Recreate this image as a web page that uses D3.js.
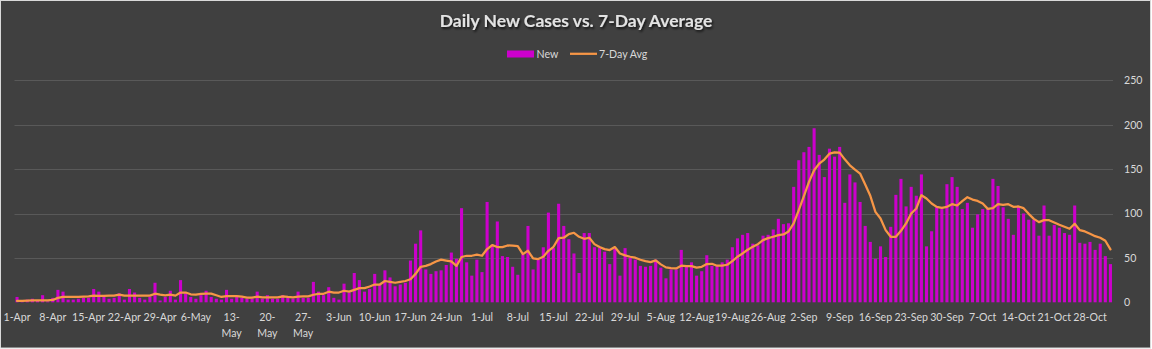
<!DOCTYPE html>
<html>
<head>
<meta charset="utf-8">
<script src="https://cdn.jsdelivr.net/npm/d3@7"></script>
<style>
  html, body { margin: 0; padding: 0; background: #ffffff; }
  svg { display: block; }
</style>
</head>
<body>
<svg id="chart" width="1152" height="349"></svg>
<script>
// Daily counts, 1 Apr – 1 Nov
const startDate = new Date(2020, 3, 1);

const newCases = [
  6, 2, 3, 4, 2, 8, 1, 5, 14, 12, 3, 3, 4, 5, 5, 15, 12, 6, 4, 5, 10, 3, 15, 11,
  5, 3, 6, 22, 2, 6, 13, 3, 25, 10, 6, 4, 8, 13, 6, 4, 3, 14, 4, 6,
  5, 4, 4, 12, 4, 8, 4, 4, 8, 5, 4, 12, 5, 5, 23, 12, 8, 17, 5, 3, 21, 11, 33, 25,
  12, 15, 32, 20, 36, 28, 18, 20, 22, 47, 66, 81, 37, 32, 35, 36, 42, 56, 49, 106,
  45, 30, 48, 34, 113, 65, 91, 52, 51, 40, 31, 54, 86, 37, 48, 62, 101, 61, 111, 86,
  71, 55, 33, 78, 78, 62, 61, 57, 43, 60, 30, 61, 50, 48, 41, 40, 41, 48, 39, 27, 37, 37, 59, 40,
  45, 30, 35, 53, 41, 41, 45, 48, 62, 72, 76, 78, 66, 64, 75, 76, 82, 94, 88, 89,
  130, 160, 169, 175, 196, 166, 141, 173, 164, 175, 112, 144, 135, 113, 86, 68, 49, 63, 51, 85,
  121, 139, 108, 130,
  120, 144, 63, 80, 107, 105, 133, 141, 130, 105, 112, 84, 99, 105, 105, 139, 131, 107, 94, 76,
  108, 100, 93, 93, 75, 109, 75, 87, 84, 78, 76, 109, 67, 66, 68, 59, 66, 52, 43
];

const sevenDayAvg = [
  1.5, 1.5, 2, 2.2, 2.2, 2.2, 2.2, 2.6, 5, 6, 6, 6, 6, 6.4, 6.7, 7.5, 7.1, 7.1, 7.5, 7.5, 8.6, 7.5,
  7.5, 7.5, 7.5, 7.5, 7.5, 9.7, 8.6, 7.9, 8.6, 7.5, 11, 11, 9, 8.6, 9.4, 9.7, 9.7, 7.9, 6, 7, 7, 7,
  6.3, 5.2, 5.2, 6.3, 5.5, 5.5, 5.5, 5.5, 6.7, 6, 5.5, 6.3, 6.7, 6.7, 8.5, 9.6, 9.6, 11.9, 11, 11,
  13, 12, 14, 16, 16, 17.8, 20, 20, 24, 23, 22, 23, 24, 26, 32, 40, 41, 43, 46, 48, 47, 46, 41, 51,
  52.4, 52.4, 53.6, 52.4, 60, 64.4, 62.2, 62.2, 64, 63.7, 63.3, 54.3, 58, 49.4, 48.7, 51.3,
  58, 62.5, 72.3, 72.7, 76.8, 78.3, 73.8, 71.5, 72.7, 65.5, 62.2, 59.9, 58.8, 62.2, 55, 52.8,
  51.3, 50.2, 47.9, 46.4, 45.3, 47.2, 42.7, 39.3, 38.6, 38.2, 41.2, 40.8,
  40.8, 39, 40, 43, 43.4, 41.2, 41.2, 42.3, 46.4, 51.3, 55, 59.2, 62.5, 65.5, 70, 72.3,
  73.8, 75.7, 76.4, 79.8, 88.8, 103.7, 119.5, 135.6, 148.7, 156.2, 160.7, 167.4, 168.9, 168.5, 161, 154.3,
  149.4, 145, 132.6, 119.9, 101.9, 94.4, 81.3, 73.8, 73.8, 80.5, 88.8, 100,
  105.6, 120.6, 116.9, 111.2, 107.5, 106.4, 107.5, 110.5, 109, 113.9, 118.4, 115.7, 114.2, 111.2, 105.2, 106,
  110.5, 109.7, 110.5, 107.5, 107.9, 106, 99.6, 94, 90.3, 92.5, 92.5, 89.9, 87.3, 85, 82.8, 88.4,
  81.3, 79.8, 77.2, 74.5, 72.7, 69.3, 59.6
];

const tickLabels = [
  "1-Apr", "8-Apr", "15-Apr", "22-Apr", "29-Apr", "6-May", "13-May", "20-May", "27-May",
  "3-Jun", "10-Jun", "17-Jun", "24-Jun", "1-Jul", "8-Jul", "15-Jul", "22-Jul", "29-Jul",
  "5-Aug", "12-Aug", "19-Aug", "26-Aug", "2-Sep", "9-Sep", "16-Sep", "23-Sep", "30-Sep",
  "7-Oct", "14-Oct", "21-Oct", "28-Oct"
];
const wrappedLabels = ["13-May", "20-May", "27-May"];
const yTicks = [0, 50, 100, 150, 200, 250];

const fmt = d3.timeFormat("%-d-%b");
const categories = newCases.map((_, i) => fmt(d3.timeDay.offset(startDate, i)));

const FONT = "Lato, 'Open Sans', sans-serif";
const TEXT = "#d9d9d9";
const SMALL = "10.6px";

const svg = d3.select("#chart");

// chart background and frame
svg.append("rect").attr("x", 0.5).attr("y", 0.5).attr("width", 1150).attr("height", 347.5)
  .attr("fill", "#404040").attr("stroke", "#d9d9d9").attr("stroke-width", 1);

const defs = svg.append("defs");
const shadow = defs.append("filter").attr("id", "titleShadow")
  .attr("x", "-10%").attr("y", "-40%").attr("width", "120%").attr("height", "180%");
shadow.append("feDropShadow").attr("dx", 1.2).attr("dy", 1.8).attr("stdDeviation", 1)
  .attr("flood-color", "#000").attr("flood-opacity", 0.75);

const x = d3.scaleBand().domain(categories).range([14.5, 1113]).paddingInner(0.4).paddingOuter(0.2);
const y = d3.scaleLinear().domain([0, 250]).range([302.3, 80.3]);

// gridlines
svg.append("g").selectAll("line").data(yTicks.filter(v => v > 0)).join("line")
  .attr("x1", 14.5).attr("x2", 1113)
  .attr("y1", d => Math.round(y(d)) + 0.5).attr("y2", d => Math.round(y(d)) + 0.5)
  .attr("stroke", "#595959").attr("stroke-width", 1);

// y axis labels on the right
const yAxis = d3.axisRight(y).tickValues(yTicks).tickSize(0).tickPadding(0);
const gy = svg.append("g").attr("transform", "translate(1124,0)").call(yAxis);
gy.select(".domain").remove();
gy.selectAll("text").attr("fill", TEXT).style("font-family", FONT).style("font-size", SMALL)
  .attr("text-anchor", "start");

// bars
svg.append("g").selectAll("rect").data(newCases).join("rect")
  .attr("x", (d, i) => x(categories[i]))
  .attr("width", x.bandwidth())
  .attr("y", d => y(d))
  .attr("height", d => y(0) - y(d))
  .attr("fill", "#cc00cc");

// 7-day average line
const line = d3.line()
  .x((d, i) => x(categories[i]) + x.bandwidth() / 2)
  .y(d => y(d));
svg.append("path").datum(sevenDayAvg)
  .attr("d", line)
  .attr("fill", "none")
  .attr("stroke", "#f79646")
  .attr("stroke-width", 2.25)
  .attr("stroke-linejoin", "round")
  .attr("stroke-linecap", "round");

// x axis: one label each week
const tickCats = tickLabels.map((_, k) => categories[k * 7]);
const labelOf = new Map(tickCats.map((c, k) => [c, tickLabels[k]]));
const xAxis = d3.axisBottom(x).tickValues(tickCats).tickSize(0).tickPadding(0)
  .tickFormat(c => labelOf.get(c));
const gx = svg.append("g").attr("transform", "translate(0,310)").call(xAxis);
gx.select(".domain").remove();
gx.selectAll("text").attr("fill", TEXT).style("font-family", FONT).style("font-size", SMALL)
  .attr("dy", null).attr("y", 10.5)
  .each(function () {
    const t = d3.select(this);
    const label = t.text();
    if (wrappedLabels.includes(label)) {
      const [a, b] = label.split("-");
      t.text(null);
      t.append("tspan").attr("x", 0).attr("y", 10.5).text(a + "-");
      t.append("tspan").attr("x", 0).attr("y", 26.5).text(b);
    }
  });

// title
svg.append("text")
  .attr("x", 576).attr("y", 27.3)
  .attr("text-anchor", "middle")
  .attr("fill", "#e3e3e3")
  .attr("filter", "url(#titleShadow)")
  .style("font-family", FONT).style("font-size", "17.5px").style("font-weight", "bold")
  .text("Daily New Cases vs. 7-Day Average");

// legend
const lg = svg.append("g").style("font-family", FONT).style("font-size", SMALL);
lg.append("rect").attr("x", 507).attr("y", 50.5).attr("width", 27).attr("height", 7).attr("fill", "#cc00cc");
lg.append("text").attr("x", 536.5).attr("y", 57.6).attr("fill", TEXT).text("New");
lg.append("line").attr("x1", 570).attr("x2", 597).attr("y1", 53.8).attr("y2", 53.8)
  .attr("stroke", "#f79646").attr("stroke-width", 2.25);
lg.append("text").attr("x", 599).attr("y", 57.6).attr("fill", TEXT).text("7-Day Avg");
</script>
</body>
</html>
